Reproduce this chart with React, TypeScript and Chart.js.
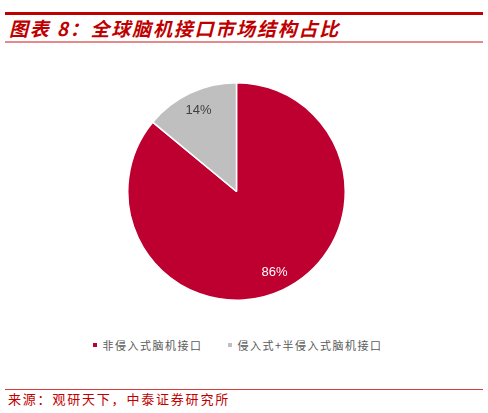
import React, { useEffect, useRef } from 'react';
import { Chart, registerables } from 'chart.js';

Chart.register(...registerables);

// Market share data
const labels = ['非侵入式脑机接口', '侵入式+半侵入式脑机接口'];
const shares = [86, 14];
const sliceColors = ['#BE0030', '#BFBFBF'];
const labelColors = ['#FFFFFF', '#404040'];

const CJK = '"Noto Sans CJK SC", "Liberation Sans", sans-serif';

// Draws the percentage labels inside each slice
const sliceLabels = {
  id: 'sliceLabels',
  afterDatasetsDraw(chart: any) {
    const ctx = chart.ctx;
    const meta = chart.getDatasetMeta(0);
    ctx.save();
    ctx.font = '13px "Liberation Sans", Arial, sans-serif';
    ctx.textAlign = 'center';
    ctx.textBaseline = 'middle';
    meta.data.forEach((arc: any, i: number) => {
      const { x, y, startAngle, endAngle, outerRadius } = arc.getProps(
        ['x', 'y', 'startAngle', 'endAngle', 'outerRadius'],
        true
      );
      const mid = (startAngle + endAngle) / 2;
      const r = outerRadius * 0.82;
      ctx.fillStyle = labelColors[i];
      ctx.fillText(shares[i] + '%', x + Math.cos(mid) * r, y + Math.sin(mid) * r);
    });
    ctx.restore();
  },
};

const App: React.FC = () => {
  const canvasRef = useRef<HTMLCanvasElement | null>(null);
  const chartInstance = useRef<Chart | null>(null);

  useEffect(() => {
    document.body.style.margin = '0';
    if (!canvasRef.current) return;
    if (chartInstance.current) {
      chartInstance.current.destroy();
    }
    const ctx = canvasRef.current.getContext('2d');
    if (ctx) {
      chartInstance.current = new Chart(ctx, {
        type: 'pie',
        data: {
          labels,
          datasets: [{
            data: shares,
            backgroundColor: sliceColors,
            borderColor: '#FFFFFF',
            borderWidth: 1.5,
          }],
        },
        options: {
          responsive: true,
          maintainAspectRatio: false,
          animation: false,
          layout: { padding: 0 },
          plugins: {
            legend: { display: false },
            tooltip: { enabled: false },
          },
        },
        plugins: [sliceLabels],
      });
    }
    return () => {
      if (chartInstance.current) {
        chartInstance.current.destroy();
        chartInstance.current = null;
      }
    };
  }, []);

  return (
    <div style={{ position: 'relative', width: 488, height: 413, background: '#FFFFFF', overflow: 'hidden' }}>
      {/* top rule */}
      <div style={{ position: 'absolute', left: 5, top: 12, width: 478, height: 3, background: '#C00000' }} />
      <div
        style={{
          position: 'absolute',
          left: 9,
          top: 16,
          fontFamily: CJK,
          fontSize: 19,
          fontWeight: 'bold',
          fontStyle: 'italic',
          letterSpacing: 1.8,
          color: '#C00000',
          lineHeight: '24px',
          whiteSpace: 'nowrap',
        }}
      >
        图表 8：全球脑机接口市场结构占比
      </div>
      <div style={{ position: 'absolute', left: 5, top: 41, width: 478, height: 2, background: '#E38A8A' }} />

      {/* pie */}
      <div style={{ position: 'absolute', left: 127, top: 82, width: 219, height: 219 }}>
        <canvas ref={canvasRef}></canvas>
      </div>

      {/* legend */}
      <div
        style={{
          position: 'absolute',
          left: 0,
          top: 337,
          width: 476,
          display: 'flex',
          justifyContent: 'center',
          fontFamily: CJK,
          fontSize: 11,
          letterSpacing: 1.5,
          color: '#595959',
          lineHeight: '16px',
        }}
      >
        {labels.map((label, i) => (
          <div key={label} style={{ display: 'flex', alignItems: 'center', marginRight: i === 0 ? 26 : 0 }}>
            <span style={{ display: 'inline-block', width: 4, height: 4, background: sliceColors[i], marginRight: 5 }} />
            <span style={{ whiteSpace: 'nowrap' }}>{label}</span>
          </div>
        ))}
      </div>

      {/* source */}
      <div style={{ position: 'absolute', left: 5, top: 389, width: 478, height: 1, background: '#E03C3C' }} />
      <div
        style={{
          position: 'absolute',
          left: 8,
          top: 391,
          fontFamily: CJK,
          fontSize: 13,
          letterSpacing: 1.8,
          color: '#C00000',
          lineHeight: '16px',
          whiteSpace: 'nowrap',
        }}
      >
        来源：观研天下，中泰证券研究所
      </div>
    </div>
  );
};

export default App;
